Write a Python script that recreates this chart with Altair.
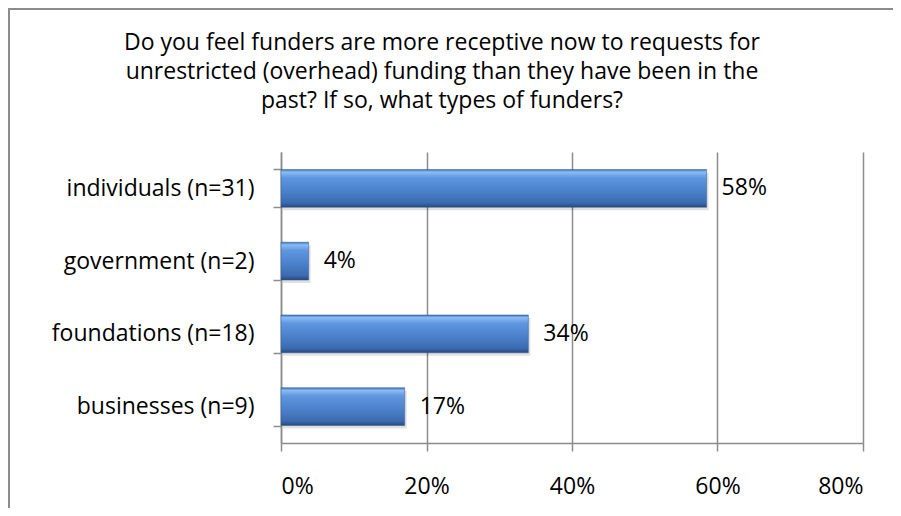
import altair as alt
import pandas as pd

categories = ["individuals (n=31)", "government (n=2)", "foundations (n=18)", "businesses (n=9)"]
values = [0.585, 0.038, 0.34, 0.17]
labels = ["58%", "4%", "34%", "17%"]
x_ticks = [0, 0.2, 0.4, 0.6, 0.8]
title_lines = [
    "Do you feel funders are more receptive now to requests for",
    "unrestricted (overhead) funding than they have been in the",
    "past? If so, what types of funders?",
]

df = pd.DataFrame({"category": categories, "value": values, "label": labels})

FONT = "Open Sans"
FS = 23
GRAY = "#8c8c8c"

y_enc = alt.Y(
    "category:N",
    sort=categories,
    scale=alt.Scale(paddingInner=0.48, paddingOuter=0.24),
    axis=alt.Axis(
        title=None,
        tickBand="extent",
        labelFontSize=FS,
        labelFont=FONT,
        labelColor="#000000",
        labelPadding=19,
        labelLimit=400,
        tickSize=8,
        tickColor=GRAY,
        tickWidth=1.5,
        domainColor=GRAY,
        domainWidth=1.5,
        grid=False,
    ),
)
x_enc = alt.X(
    "value:Q",
    scale=alt.Scale(domain=[0, 0.8], nice=False),
    axis=alt.Axis(
        title=None,
        values=x_ticks,
        format=".0%",
        labelFontSize=FS,
        labelFont=FONT,
        labelColor="#000000",
        labelPadding=24,
        tickSize=8,
        tickColor=GRAY,
        tickWidth=1.5,
        domainColor=GRAY,
        domainWidth=1.5,
        grid=True,
        gridColor=GRAY,
        gridWidth=1.5,
    ),
)

base = alt.Chart(df)

shadow = base.mark_bar(color="#000000", opacity=0.12, xOffset=2, yOffset=3).encode(
    x=x_enc, y=y_enc
)

gradient = alt.Gradient(
    gradient="linear",
    stops=[
        alt.GradientStop(color="#3d6fb0", offset=0),
        alt.GradientStop(color="#8cbcf5", offset=0.07),
        alt.GradientStop(color="#5e96e0", offset=0.22),
        alt.GradientStop(color="#4a7fc8", offset=0.6),
        alt.GradientStop(color="#3b6bb0", offset=0.88),
        alt.GradientStop(color="#27487a", offset=1),
    ],
    x1=0, x2=0, y1=0, y2=1,
)

bars = base.mark_bar(color=gradient, stroke="#2f5a94", strokeWidth=0.5).encode(
    x=x_enc, y=y_enc
)

text = base.mark_text(align="left", baseline="middle", dx=15, fontSize=FS, font=FONT, color="#000000").encode(
    x="value:Q", y=alt.Y("category:N", sort=categories), text="label:N"
)

frame_data = alt.Data(values=[{"a": 1}])
left_border = alt.Chart(frame_data).mark_rule(color=GRAY, strokeWidth=2).encode(
    x=alt.value(-272), x2=alt.value(-272), y=alt.value(-144), y2=alt.value(356)
)
top_border = alt.Chart(frame_data).mark_rule(color=GRAY, strokeWidth=2).encode(
    x=alt.value(-273), x2=alt.value(612), y=alt.value(-143), y2=alt.value(-143)
)

chart = (
    alt.layer(left_border, top_border, shadow, bars, text)
    .properties(
        width=582,
        height=291,
        padding={"left": 273, "top": 144, "right": 30, "bottom": 65},
        autosize=alt.AutoSizeParams(type="none"),
        title=alt.TitleParams(
            text=title_lines,
            font=FONT,
            fontSize=FS,
            fontWeight="normal",
            color="#000000",
            anchor="middle",
            frame="group",
            dx=-130,
            lineHeight=29,
            offset=-106,
        ),
    )
    .configure_view(stroke=None)
)

chart.save("out.html", embed_options={"renderer": "svg", "actions": False})
